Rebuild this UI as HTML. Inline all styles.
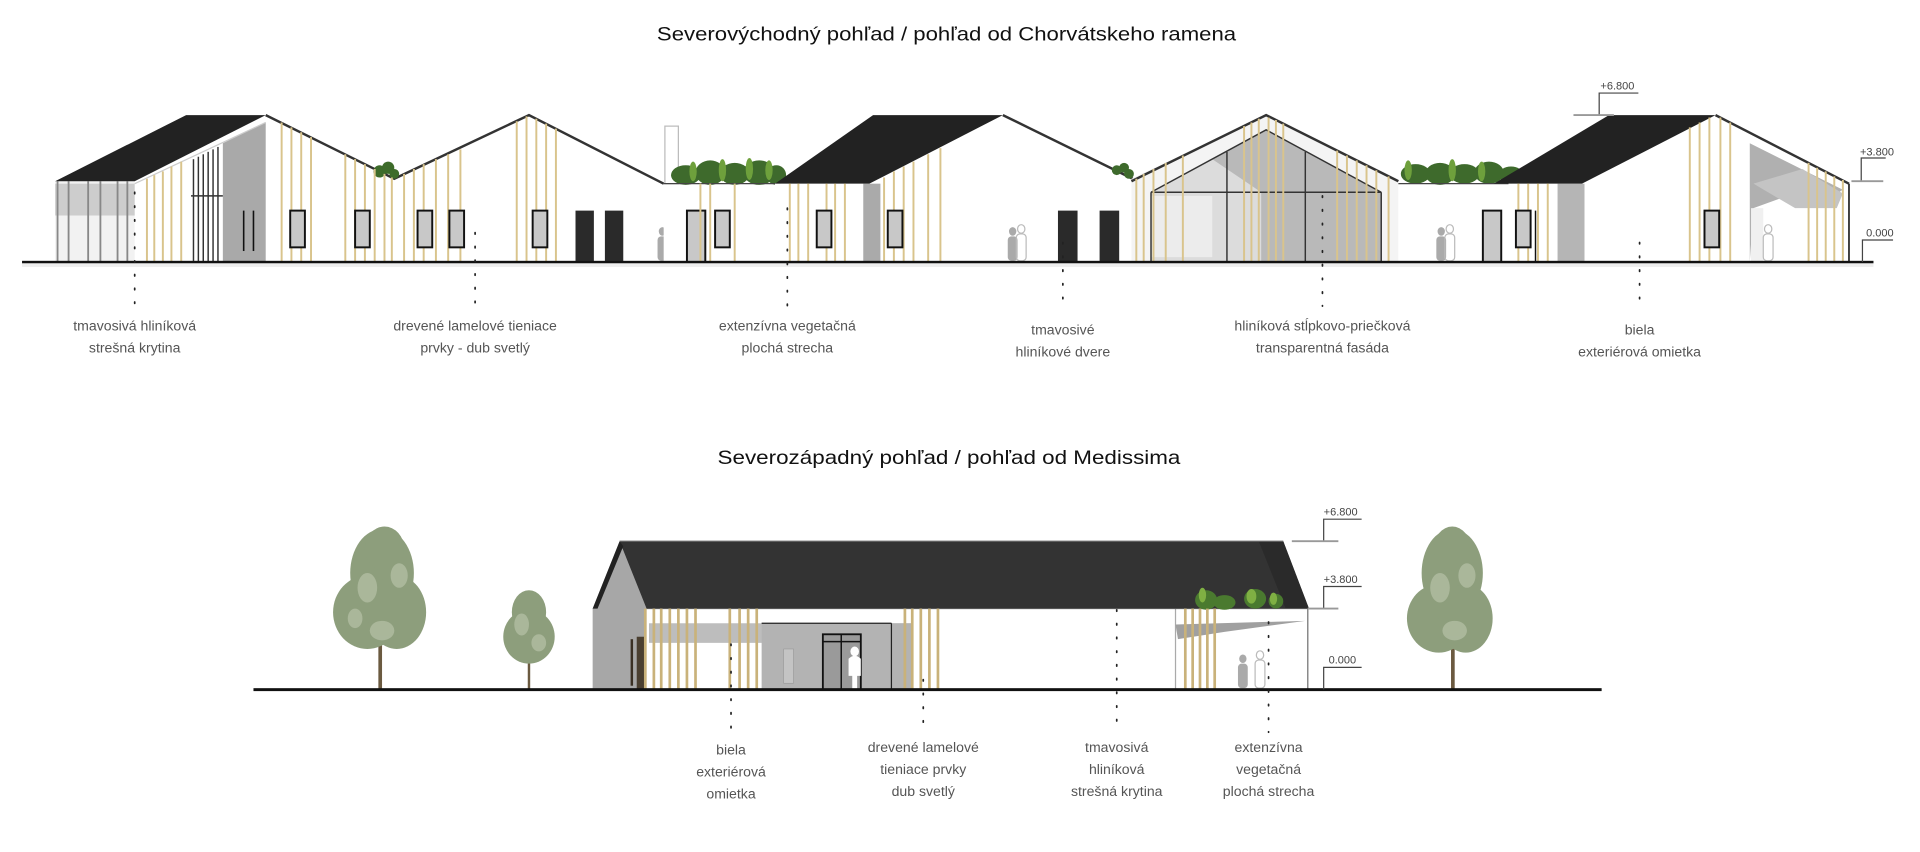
<!DOCTYPE html>
<html><head><meta charset="utf-8"><style>
html,body{margin:0;padding:0;background:#fff}
svg{display:block}
text{font-family:"Liberation Sans Narrow","Liberation Sans",sans-serif;fill:#333}
.t{font-size:15.5px;fill:#111}
.l{font-size:11.5px;fill:#555;text-anchor:middle}
.lv{font-size:9px;fill:#444}
.lam{stroke:#d9c48c;stroke-width:1.6}
.lam2{stroke:#c9b27a;stroke-width:2.2}
.dot{stroke:#222;stroke-width:1.4;stroke-dasharray:1.2 10;stroke-linecap:round}
.win{fill:#c8c8c8;stroke:#111;stroke-width:1.6}
</style></head><body>
<svg width="1920" height="852" viewBox="0 0 1568 695.8" preserveAspectRatio="none" xmlns="http://www.w3.org/2000/svg">
<rect width="1568" height="696" fill="#fff"/>
<text class="t" x="773" y="33" text-anchor="middle" textLength="473" lengthAdjust="spacingAndGlyphs">Severovýchodný pohľad / pohľad od Chorvátskeho ramena</text>

<polygon points="110,148 217,94 322,146 432,94 542,150 542,214 110,214" fill="#fff"/>
<rect x="45" y="148" width="65" height="66" fill="#f2f2f2"/>
<rect x="45" y="150" width="65" height="26" fill="#bdbdbd" opacity=".7"/>
<g stroke="#888" stroke-width="1.5"><line x1="47" y1="148" x2="47" y2="214"/><line x1="56" y1="148" x2="56" y2="214"/><line x1="72" y1="148" x2="72" y2="214"/><line x1="82" y1="148" x2="82" y2="214"/><line x1="96" y1="148" x2="96" y2="214"/><line x1="104" y1="148" x2="104" y2="214"/></g>
<polygon points="182,117 217,100 217,214 182,214" fill="#a9a9a9"/>
<g stroke="#333" stroke-width="1.2"><line x1="158" y1="130" x2="158" y2="214"/><line x1="162" y1="128" x2="162" y2="214"/><line x1="166" y1="126" x2="166" y2="214"/><line x1="170" y1="124" x2="170" y2="214"/><line x1="174" y1="122" x2="174" y2="214"/><line x1="178" y1="120" x2="178" y2="214"/><line x1="156" y1="160" x2="182" y2="160"/></g>
<g stroke="#111" stroke-width="1.3"><line x1="199" y1="172" x2="199" y2="205"/><line x1="207" y1="172" x2="207" y2="205"/></g>
<polygon points="45,148 152,94 217,94 110,148" fill="#222"/>
<line x1="110" y1="150" x2="217" y2="100" stroke="#ccc" stroke-width="1"/>
<polyline points="217,94 322,146 432,94 542,150" fill="none" stroke="#333" stroke-width="2"/>
<g fill="#3d6b2a"><circle cx="310" cy="140" r="5"/><circle cx="317" cy="137" r="5"/><circle cx="322" cy="142" r="4"/></g>
<g class="lam">
<line x1="120" y1="146" x2="120" y2="214"/><line x1="126" y1="143" x2="126" y2="214"/><line x1="133" y1="140" x2="133" y2="214"/><line x1="140" y1="136" x2="140" y2="214"/><line x1="148" y1="132" x2="148" y2="214"/>
<line x1="230" y1="100" x2="230" y2="214"/><line x1="238" y1="104" x2="238" y2="214"/><line x1="246" y1="108" x2="246" y2="214"/><line x1="254" y1="112" x2="254" y2="214"/>
<line x1="282" y1="126" x2="282" y2="214"/><line x1="290" y1="130" x2="290" y2="214"/><line x1="298" y1="134" x2="298" y2="214"/><line x1="306" y1="138" x2="306" y2="214"/><line x1="314" y1="142" x2="314" y2="214"/><line x1="320" y1="145" x2="320" y2="214"/>
<line x1="330" y1="142" x2="330" y2="214"/><line x1="338" y1="138" x2="338" y2="214"/><line x1="346" y1="134" x2="346" y2="214"/><line x1="356" y1="130" x2="356" y2="214"/><line x1="366" y1="126" x2="366" y2="214"/><line x1="376" y1="122" x2="376" y2="214"/>
<line x1="422" y1="99" x2="422" y2="214"/><line x1="430" y1="95" x2="430" y2="214"/><line x1="438" y1="97" x2="438" y2="214"/><line x1="446" y1="101" x2="446" y2="214"/><line x1="454" y1="105" x2="454" y2="214"/>
</g>
<rect class="win" x="237" y="172" width="12" height="30"/><rect class="win" x="290" y="172" width="12" height="30"/><rect class="win" x="341" y="172" width="12" height="30"/><rect class="win" x="367" y="172" width="12" height="30"/><rect class="win" x="435" y="172" width="12" height="30"/>
<rect x="470" y="172" width="15" height="42" fill="#2a2a2a"/><rect x="494" y="172" width="15" height="42" fill="#2a2a2a"/>
<g fill="#aaa"><ellipse cx="541" cy="189" rx="3" ry="3.5"/><rect x="537" y="193" width="8" height="20" rx="3"/></g>
<g fill="none" stroke="#bbb"><ellipse cx="548" cy="187" rx="3" ry="3.5"/><rect x="544" y="191" width="8" height="22" rx="3"/></g>
<rect x="542" y="150" width="95" height="64" fill="#fff"/>
<rect x="543" y="103" width="11" height="47" fill="#fff" stroke="#bbb"/>
<g fill="#3e6a2c"><ellipse cx="560" cy="143" rx="12" ry="8"/><ellipse cx="580" cy="141" rx="12" ry="10"/><ellipse cx="600" cy="142" rx="12" ry="9"/><ellipse cx="620" cy="141" rx="13" ry="10"/><ellipse cx="634" cy="143" rx="8" ry="8"/></g>
<g fill="#6ea03c"><ellipse cx="566" cy="140" rx="3" ry="8"/><ellipse cx="590" cy="139" rx="3" ry="9"/><ellipse cx="612" cy="138" rx="3" ry="9"/><ellipse cx="628" cy="139" rx="3" ry="8"/></g>
<line x1="542" y1="150" x2="636" y2="150" stroke="#444" stroke-width="1"/>
<rect class="win" x="561" y="172" width="15" height="42" fill="#ddd"/>
<rect class="win" x="584" y="172" width="12" height="30"/>
<g class="lam"><line x1="572" y1="150" x2="572" y2="214"/><line x1="580" y1="150" x2="580" y2="214"/><line x1="600" y1="150" x2="600" y2="214"/></g>
<polygon points="633,150 710,150 819,94 925,146 925,214 633,214" fill="#fff"/>
<rect x="633" y="150" width="80" height="64" fill="#fff"/>
<rect x="705" y="150" width="14" height="64" fill="#aaa"/>
<polygon points="633,150 713,94 819,94 710,150" fill="#222"/>
<polyline points="819,94 925,146" fill="none" stroke="#333" stroke-width="2"/>
<g class="lam">
<line x1="645" y1="150" x2="645" y2="214"/><line x1="652" y1="150" x2="652" y2="214"/><line x1="660" y1="150" x2="660" y2="214"/><line x1="675" y1="150" x2="675" y2="214"/><line x1="682" y1="150" x2="682" y2="214"/><line x1="690" y1="150" x2="690" y2="214"/>
<line x1="722" y1="145" x2="722" y2="214"/><line x1="730" y1="140" x2="730" y2="214"/><line x1="738" y1="136" x2="738" y2="214"/><line x1="746" y1="132" x2="746" y2="214"/><line x1="758" y1="126" x2="758" y2="214"/><line x1="768" y1="121" x2="768" y2="214"/>
</g>
<rect class="win" x="667" y="172" width="12" height="30"/><rect class="win" x="725" y="172" width="12" height="30"/>
<g fill="#aaa"><ellipse cx="827" cy="189" rx="3" ry="3.5"/><rect x="823" y="193" width="8" height="20" rx="3"/></g>
<g fill="none" stroke="#bbb"><ellipse cx="834" cy="187" rx="3" ry="3.5"/><rect x="830" y="191" width="8" height="22" rx="3"/></g>
<rect x="864" y="172" width="16" height="42" fill="#2a2a2a"/><rect x="898" y="172" width="16" height="42" fill="#2a2a2a"/>
<g fill="#3e6a2c"><circle cx="912" cy="139" r="4"/><circle cx="918" cy="137" r="4"/><circle cx="922" cy="142" r="4"/></g>
<polygon points="924,146 1034,94 1142,148 1142,214 924,214" fill="#f4f4f4"/>
<polygon points="940,157 1034,106 1128,157 1128,214 940,214" fill="#dcdcdc"/>
<polygon points="990,130 1034,106 1128,157 1128,214 1030,214 1030,157" fill="#b9b9b9"/>
<rect x="940" y="160" width="50" height="50" fill="#ececec"/>
<g stroke="#333" stroke-width="1.2" fill="none"><polyline points="940,157 1034,106 1128,157"/><line x1="940" y1="157" x2="1128" y2="157"/><line x1="940" y1="157" x2="940" y2="214"/><line x1="1128" y1="157" x2="1128" y2="214"/><line x1="1066" y1="124" x2="1066" y2="214"/><line x1="1002" y1="124" x2="1002" y2="214"/></g>
<polyline points="924,148 1034,94 1142,148" fill="none" stroke="#333" stroke-width="2"/>
<g class="lam">
<line x1="928" y1="146" x2="928" y2="214"/><line x1="934" y1="142" x2="934" y2="214"/><line x1="942" y1="138" x2="942" y2="214"/><line x1="952" y1="133" x2="952" y2="214"/><line x1="966" y1="127" x2="966" y2="214"/><line x1="1016" y1="103" x2="1016" y2="214"/><line x1="1022" y1="100" x2="1022" y2="214"/><line x1="1028" y1="97" x2="1028" y2="214"/><line x1="1036" y1="96" x2="1036" y2="214"/><line x1="1042" y1="98" x2="1042" y2="214"/><line x1="1048" y1="101" x2="1048" y2="214"/>
<line x1="1092" y1="123" x2="1092" y2="214"/><line x1="1100" y1="127" x2="1100" y2="214"/><line x1="1108" y1="131" x2="1108" y2="214"/><line x1="1116" y1="135" x2="1116" y2="214"/><line x1="1124" y1="139" x2="1124" y2="214"/><line x1="1134" y1="144" x2="1134" y2="214"/>
</g>
<rect x="1142" y="150" width="100" height="64" fill="#fff"/>
<g fill="#3e6a2c"><ellipse cx="1156" cy="142" rx="12" ry="8"/><ellipse cx="1176" cy="142" rx="12" ry="9"/><ellipse cx="1196" cy="142" rx="12" ry="8"/><ellipse cx="1216" cy="141" rx="12" ry="9"/><ellipse cx="1234" cy="143" rx="10" ry="7"/></g>
<g fill="#6ea03c"><ellipse cx="1150" cy="139" rx="3" ry="8"/><ellipse cx="1186" cy="139" rx="3" ry="9"/><ellipse cx="1210" cy="140" rx="3" ry="8"/></g>
<line x1="1142" y1="150" x2="1232" y2="150" stroke="#444" stroke-width="1"/>
<g fill="#aaa"><ellipse cx="1177" cy="189" rx="3" ry="3.5"/><rect x="1173" y="193" width="8" height="20" rx="3"/></g>
<g fill="none" stroke="#bbb"><ellipse cx="1184" cy="187" rx="3" ry="3.5"/><rect x="1180" y="191" width="8" height="22" rx="3"/></g>
<rect class="win" x="1211" y="172" width="15" height="42" fill="#ccc"/>
<polygon points="1232,150 1292,150 1401,94 1510,150 1510,214 1232,214" fill="#fff"/>
<rect x="1272" y="150" width="22" height="64" fill="#b5b5b5"/>
<polygon points="1220,150 1314,94 1401,94 1292,150" fill="#222"/>
<polyline points="1401,94 1510,150" fill="none" stroke="#333" stroke-width="2"/>
<line x1="1510" y1="150" x2="1510" y2="214" stroke="#333" stroke-width="1.5"/>
<polygon points="1429,117 1505,155 1500,158 1465,158 1432,170 1429,214" fill="#b0b0b0"/>
<polygon points="1432,150 1466,170 1500,170 1505,158 1472,138" fill="#c4c4c4"/>
<rect x="1430" y="170" width="10" height="44" fill="#f0f0f0"/>
<g fill="none" stroke="#bbb"><ellipse cx="1444" cy="187" rx="3" ry="3.5"/><rect x="1440" y="191" width="8" height="22" rx="3"/></g>
<g class="lam">
<line x1="1240" y1="150" x2="1240" y2="214"/><line x1="1248" y1="150" x2="1248" y2="214"/><line x1="1256" y1="150" x2="1256" y2="214"/><line x1="1264" y1="150" x2="1264" y2="214"/>
<line x1="1380" y1="104" x2="1380" y2="214"/><line x1="1388" y1="100" x2="1388" y2="214"/><line x1="1396" y1="96" x2="1396" y2="214"/><line x1="1405" y1="96" x2="1405" y2="214"/><line x1="1413" y1="100" x2="1413" y2="214"/>
<line x1="1477" y1="133" x2="1477" y2="214"/><line x1="1484" y1="137" x2="1484" y2="214"/><line x1="1491" y1="140" x2="1491" y2="214"/><line x1="1498" y1="144" x2="1498" y2="214"/><line x1="1505" y1="147" x2="1505" y2="214"/>
</g>
<rect class="win" x="1238" y="172" width="12" height="30"/><rect class="win" x="1392" y="172" width="12" height="30"/>
<line x1="1254" y1="172" x2="1254" y2="214" stroke="#111" stroke-width="1.2"/>
<rect x="18" y="213" width="1512" height="2.2" fill="#111"/>
<rect x="18" y="215" width="1512" height="3" fill="#eee"/>
<g stroke="#444" stroke-width="1" fill="none">
<polyline points="1338,76 1306,76 1306,94"/><line x1="1285" y1="94" x2="1318" y2="94" stroke="#999" stroke-width="1.5"/>
<polyline points="1540,129 1520,129 1520,148"/><line x1="1512" y1="148" x2="1538" y2="148" stroke="#999" stroke-width="1.5"/>
<polyline points="1546,196 1521,196 1521,214"/>
</g>
<text class="lv" x="1307" y="73">+6.800</text>
<text class="lv" x="1519" y="127">+3.800</text>
<text class="lv" x="1524" y="193">0.000</text>
<g class="dot">
<line x1="110" y1="157" x2="110" y2="250"/><line x1="388" y1="190" x2="388" y2="250"/><line x1="643" y1="170" x2="643" y2="250"/><line x1="868" y1="198" x2="868" y2="250"/><line x1="1080" y1="160" x2="1080" y2="250"/><line x1="1339" y1="198" x2="1339" y2="250"/>
</g>
<text class="l" x="110" y="270">tmavosivá hliníková</text><text class="l" x="110" y="288">strešná krytina</text>
<text class="l" x="388" y="270">drevené lamelové tieniace</text><text class="l" x="388" y="288">prvky - dub svetlý</text>
<text class="l" x="643" y="270">extenzívna vegetačná</text><text class="l" x="643" y="288">plochá strecha</text>
<text class="l" x="868" y="273">tmavosivé</text><text class="l" x="868" y="291">hliníkové dvere</text>
<text class="l" x="1080" y="270">hliníková stĺpkovo-priečková</text><text class="l" x="1080" y="288">transparentná fasáda</text>
<text class="l" x="1339" y="273">biela</text><text class="l" x="1339" y="291">exteriérová omietka</text>

<text class="t" x="775" y="379" text-anchor="middle" textLength="378" lengthAdjust="spacingAndGlyphs">Severozápadný pohľad / pohľad od Medissima</text>
<g>
<rect x="309" y="500" width="3" height="63" fill="#6b5a40"/>
<g fill="#8d9e7c"><ellipse cx="312" cy="468" rx="26" ry="36"/><ellipse cx="300" cy="500" rx="28" ry="30"/><ellipse cx="324" cy="500" rx="24" ry="30"/><ellipse cx="314" cy="448" rx="16" ry="18"/></g>
<g fill="#b7c2a8" opacity=".7"><ellipse cx="300" cy="480" rx="8" ry="12"/><ellipse cx="326" cy="470" rx="7" ry="10"/><ellipse cx="312" cy="515" rx="10" ry="8"/><ellipse cx="290" cy="505" rx="6" ry="8"/></g>
<rect x="431" y="530" width="2" height="33" fill="#6b5a40"/>
<g fill="#8d9e7c"><ellipse cx="432" cy="500" rx="14" ry="18"/><ellipse cx="432" cy="520" rx="21" ry="22"/></g>
<g fill="#b7c2a8" opacity=".7"><ellipse cx="426" cy="510" rx="6" ry="9"/><ellipse cx="440" cy="525" rx="6" ry="7"/></g>
<rect x="1185" y="500" width="3" height="63" fill="#6b5a40"/>
<g fill="#8d9e7c"><ellipse cx="1186" cy="468" rx="25" ry="36"/><ellipse cx="1175" cy="505" rx="26" ry="28"/><ellipse cx="1197" cy="505" rx="22" ry="28"/><ellipse cx="1186" cy="448" rx="15" ry="18"/></g>
<g fill="#b7c2a8" opacity=".7"><ellipse cx="1176" cy="480" rx="8" ry="12"/><ellipse cx="1198" cy="470" rx="7" ry="10"/><ellipse cx="1188" cy="515" rx="10" ry="8"/></g>
</g>
<rect x="484" y="497" width="585" height="66" fill="#fff"/>
<polygon points="484,497 506,442 528,497 528,563 484,563" fill="#a7a7a7"/>
<rect x="530" y="509" width="215" height="16" fill="#bdbdbd"/>
<rect x="622" y="509" width="123" height="54" fill="#b3b3b3"/>
<rect x="640" y="530" width="8" height="28" fill="#c4c4c4" stroke="#999" stroke-width=".5"/>
<rect x="672" y="518" width="31" height="45" fill="#9a9a9a" stroke="#111" stroke-width="1.5"/>
<line x1="687" y1="518" x2="687" y2="563" stroke="#111" stroke-width="1.2"/>
<line x1="672" y1="524" x2="703" y2="524" stroke="#111" stroke-width="1.2"/>
<line x1="622" y1="509" x2="728" y2="509" stroke="#222"/><line x1="728" y1="509" x2="728" y2="563" stroke="#222"/>
<g fill="#fff"><ellipse cx="698" cy="532" rx="3.5" ry="4"/><path d="M693,538 Q698,533 703,538 L703,552 L700,552 L700,563 L696,563 L696,552 L693,552Z"/></g>
<rect x="515" y="522" width="2" height="38" fill="#3a3024"/>
<rect x="520" y="520" width="6" height="43" fill="#4a3f30"/>
<line x1="960" y1="497" x2="960" y2="563" stroke="#aaa"/>
<line x1="1068" y1="497" x2="1068" y2="563" stroke="#888" stroke-width="1.2"/>
<polygon points="960,510 1066,507 1000,516 962,522" fill="#a0a0a0"/>
<g fill="#aaa"><ellipse cx="1015" cy="538" rx="3" ry="3.5"/><rect x="1011" y="542" width="8" height="20" rx="3"/></g>
<g fill="none" stroke="#bbb"><ellipse cx="1029" cy="535" rx="3" ry="3.5"/><rect x="1025" y="539" width="8" height="23" rx="3"/></g>
<polygon points="506,442 1048,442 1069,497 528,497" fill="#333"/>
<polygon points="1028,442 1048,442 1069,497 1050,497" fill="#2a2a2a"/>
<polygon points="484,497 506,442 509,446 488,497" fill="#222"/>
<line x1="506" y1="442" x2="1048" y2="442" stroke="#666" stroke-width="1"/>
<line x1="528" y1="497" x2="1069" y2="497" stroke="#555" stroke-width="1"/>
<g fill="#4a7a2f"><ellipse cx="985" cy="490" rx="9" ry="8"/><ellipse cx="1000" cy="492" rx="9" ry="6"/><ellipse cx="1025" cy="489" rx="9" ry="8"/><ellipse cx="1042" cy="491" rx="6" ry="6"/></g>
<g fill="#7fb043"><ellipse cx="1022" cy="487" rx="4" ry="6"/><ellipse cx="1040" cy="489" rx="3" ry="5"/><ellipse cx="982" cy="486" rx="3" ry="6"/></g>
<g class="lam2">
<line x1="527" y1="497" x2="527" y2="563"/><line x1="534" y1="497" x2="534" y2="563"/><line x1="540" y1="497" x2="540" y2="563"/><line x1="547" y1="497" x2="547" y2="563"/><line x1="554" y1="497" x2="554" y2="563"/><line x1="561" y1="497" x2="561" y2="563"/><line x1="568" y1="497" x2="568" y2="563"/>
<line x1="596" y1="497" x2="596" y2="563"/><line x1="604" y1="497" x2="604" y2="563"/><line x1="611" y1="497" x2="611" y2="563"/><line x1="618" y1="497" x2="618" y2="563"/>
<line x1="739" y1="497" x2="739" y2="563"/><line x1="745" y1="497" x2="745" y2="563"/><line x1="752" y1="497" x2="752" y2="563"/><line x1="759" y1="497" x2="759" y2="563"/><line x1="766" y1="497" x2="766" y2="563"/>
<line x1="968" y1="497" x2="968" y2="563"/><line x1="974" y1="497" x2="974" y2="563"/><line x1="980" y1="497" x2="980" y2="563"/><line x1="986" y1="497" x2="986" y2="563"/><line x1="992" y1="497" x2="992" y2="563"/>
</g>
<rect x="207" y="562" width="1101" height="2.4" fill="#111"/>
<g stroke="#444" stroke-width="1" fill="none">
<polyline points="1112,424 1081,424 1081,442"/><line x1="1055" y1="442" x2="1093" y2="442" stroke="#999" stroke-width="1.5"/>
<polyline points="1112,479 1081,479 1081,497"/><line x1="1068" y1="497" x2="1093" y2="497" stroke="#999" stroke-width="1.5"/>
<polyline points="1112,545 1081,545 1081,563"/>
</g>
<text class="lv" x="1081" y="421">+6.800</text>
<text class="lv" x="1081" y="476">+3.800</text>
<text class="lv" x="1085" y="542">0.000</text>
<g class="dot">
<line x1="597" y1="526" x2="597" y2="598"/><line x1="754" y1="555" x2="754" y2="598"/><line x1="912" y1="498" x2="912" y2="598"/><line x1="1036" y1="508" x2="1036" y2="598"/>
</g>
<text class="l" x="597" y="616">biela</text><text class="l" x="597" y="634">exteriérová</text><text class="l" x="597" y="652">omietka</text>
<text class="l" x="754" y="614">drevené lamelové</text><text class="l" x="754" y="632">tieniace prvky</text><text class="l" x="754" y="650">dub svetlý</text>
<text class="l" x="912" y="614">tmavosivá</text><text class="l" x="912" y="632">hliníková</text><text class="l" x="912" y="650">strešná krytina</text>
<text class="l" x="1036" y="614">extenzívna</text><text class="l" x="1036" y="632">vegetačná</text><text class="l" x="1036" y="650">plochá strecha</text>
</svg>
</body></html>
